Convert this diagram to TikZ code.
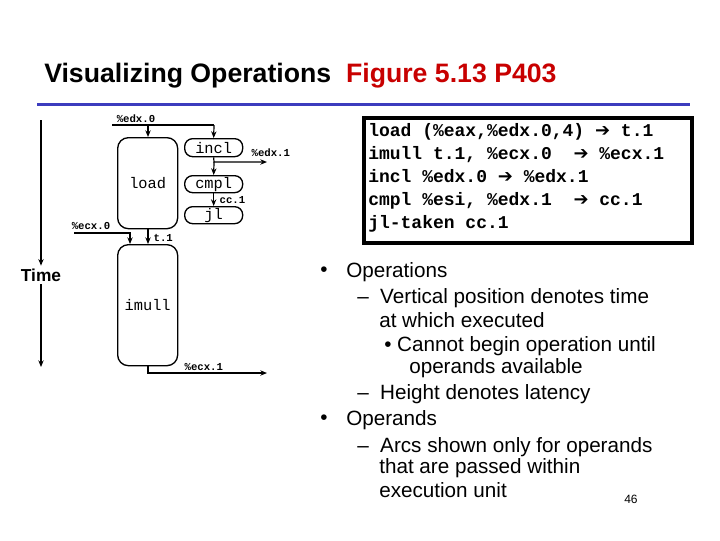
\documentclass[tikz,border=0pt]{standalone}
\usepackage{fontspec}
\setmainfont{Liberation Sans}
\newfontfamily\codefont{Liberation Mono}
\newfontfamily\symfont{DejaVu Sans}
\usetikzlibrary{arrows.meta}
\definecolor{titlered}{RGB}{200,0,0}
\definecolor{barblue}{RGB}{60,60,190}
\begin{document}
\begin{tikzpicture}[x=0.75pt,y=-0.75pt,
  op/.style={draw,line width=1pt,rounded corners=6pt,font=\codefont\fontsize{11.5}{11}\selectfont},
  lbl/.style={font=\codefont\bfseries\fontsize{8}{8}\selectfont,inner sep=1pt},
  arr/.style={line width=0.9pt,-{Stealth[length=5pt,width=4pt]}},
  bt/.style={anchor=west,inner sep=0pt,font=\fontsize{15.5}{16}\selectfont}]
\useasboundingbox (0,0) rectangle (720,540);
\fill[white] (0,0) rectangle (720,540);
% title
\node[anchor=base west,inner sep=0pt,font=\bfseries\fontsize{20}{22}\selectfont] (title) at (44,82) {Visualizing Operations\ \ \textcolor{titlered}{Figure 5.13 P403}};
\fill[barblue] (37,102.5) rectangle (690,105.5) coordinate (barend);
% time axis
\coordinate (t0) at (41,120); \coordinate (t1) at (41,367);
\node[font=\bfseries\fontsize{13}{13}\selectfont,fill=white,inner sep=2pt] (time) at (41,275) {Time};
\draw[arr] (t0) -- (time.north);
\draw[arr] (time.south) -- (t1);
% operations
\node[op,minimum width=60*0.75pt,minimum height=91*0.75pt,anchor=north west,rounded corners=8pt] (load) at (117,137) {load};
\node[op,minimum width=60*0.75pt,minimum height=121*0.75pt,anchor=north west,rounded corners=8pt] (imull) at (117,244) {imull};
\node[op,minimum width=58*0.75pt,minimum height=18*0.75pt,anchor=north west,inner sep=0pt] (incl) at (184,138) {incl};
\node[op,minimum width=58*0.75pt,minimum height=17*0.75pt,anchor=north west,inner sep=0pt] (cmpl) at (184,175) {cmpl};
\node[op,minimum width=58*0.75pt,minimum height=17*0.75pt,anchor=north west,inner sep=0pt] (jl) at (184,206) {jl};
% edx.0
\coordinate (e0) at (112,125);
\node[lbl,anchor=south] (edx0) at (136,124) {\%edx.0};
\draw[line width=0.9pt] (e0) -- (214,125);
\draw[arr] (148,125) -- (148,137);
\draw[arr] (214,125) -- (incl.north);
% edx.1
\node[lbl,anchor=south west] (edx1) at (250,158) {\%edx.1};
\draw[arr] (incl.south) -- (214,162) -- (267,162) coordinate (e1);
\draw[arr] (214,162) -- (cmpl.north);
\draw[arr] (cmpl.south) -- (jl.north);
\node[lbl,anchor=west] (cc1) at (218,200) {cc.1};
% ecx.0
\node[lbl,anchor=south] (ecx0) at (91,231) {\%ecx.0};
\draw[arr] (74,233) -- (130,233) -- (130,244);
\draw[arr] (148,228) -- (148,244);
\node[lbl,anchor=west] (t1lbl) at (152,238) {t.1};
% ecx.1
\draw[arr] (148,365) -- (148,373) -- (267,373) coordinate (c1);
\node[lbl,anchor=south west] (ecx1) at (183,372) {\%ecx.1};
% code box
\node[draw,line width=3pt,anchor=north west,minimum width=328*0.75pt,minimum height=125*0.75pt,inner sep=0pt] (code) at (362,116) {};
\node[anchor=west,align=left,inner sep=0pt,font=\codefont\bfseries\fontsize{13.5}{17.3}\selectfont] (codetext) at (368,178) {%
load (\%eax,\%edx.0,4) {\symfont➔} t.1\\
imull t.1, \%ecx.0\ \ {\symfont➔} \%ecx.1\\
incl \%edx.0 {\symfont➔} \%edx.1\\
cmpl \%esi, \%edx.1\ \ {\symfont➔} cc.1\\
jl-taken cc.1};
% bullets
\node[bt] (b1) at (320,272) {•};
\node[bt] (o1) at (346,272) {Operations};
\node[bt] (d1) at (357,298) {–\ \ Vertical position denotes time};
\node[bt] (d1b) at (379,320) {at which executed};
\node[bt] (s1) at (384,346) {•\ Cannot begin operation until};
\node[bt] (s1b) at (409,368) {operands available};
\node[bt] (d2) at (357,394) {–\ \ Height denotes latency};
\node[bt] (b2) at (320,420) {•};
\node[bt] (o2) at (346,420) {Operands};
\node[bt] (d3) at (357,447) {–\ \ Arcs shown only for operands};
\node[bt] (d3b) at (379,468) {that are passed within};
\node[bt] (d3c) at (379,490) {execution unit};
\node[anchor=west,inner sep=0pt,font=\fontsize{9}{9}\selectfont] (pg) at (624,499) {46};
\end{tikzpicture}
\end{document}
